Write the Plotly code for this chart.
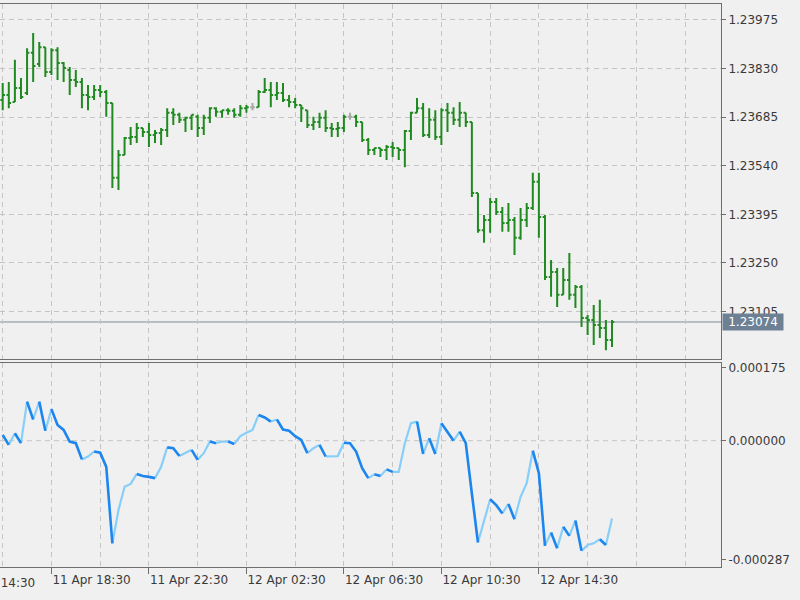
import pandas as pd
import plotly.graph_objects as go

# ---------------- data ----------------
bar_start = "2018-04-11 16:30"
bar_count = 101
times = pd.date_range(bar_start, periods=bar_count, freq="15min")

open_ = [1.23736, 1.23751, 1.23730, 1.23772, 1.23757, 1.23877, 1.23844, 1.23894, 1.23820, 1.23885,
         1.23847, 1.23826, 1.23796, 1.23790, 1.23751, 1.23745, 1.23766, 1.23760, 1.23727, 1.23504,
         1.23572, 1.23623, 1.23626, 1.23653, 1.23641, 1.23632, 1.23638, 1.23647, 1.23698, 1.23692,
         1.23677, 1.23683, 1.23686, 1.23653, 1.23683, 1.23712, 1.23701, 1.23706, 1.23704, 1.23692,
         1.23712, 1.23715, 1.23715, 1.23760, 1.23766, 1.23751, 1.23757, 1.23736, 1.23730, 1.23721,
         1.23706, 1.23662, 1.23671, 1.23683, 1.23653, 1.23650, 1.23653, 1.23686, 1.23686, 1.23671,
         1.23617, 1.23587, 1.23593, 1.23587, 1.23596, 1.23593, 1.23587, 1.23644, 1.23698, 1.23712,
         1.23632, 1.23677, 1.23626, 1.23706, 1.23698, 1.23677, 1.23698, 1.23671, 1.23459, 1.23348,
         1.23378, 1.23432, 1.23402, 1.23369, 1.23378, 1.23325, 1.23378, 1.23414, 1.23492, 1.23387,
         1.23208, 1.23223, 1.23155, 1.23199, 1.23155, 1.23178, 1.23086, 1.23080, 1.23065, 1.23056,
         1.23020]
high = [1.23787, 1.23790, 1.23856, 1.23802, 1.23891, 1.23936, 1.23909, 1.23894, 1.23891, 1.23894,
        1.23850, 1.23835, 1.23826, 1.23802, 1.23781, 1.23781, 1.23781, 1.23766, 1.23727, 1.23587,
        1.23626, 1.23656, 1.23668, 1.23653, 1.23668, 1.23647, 1.23653, 1.23712, 1.23712, 1.23698,
        1.23686, 1.23692, 1.23692, 1.23692, 1.23715, 1.23715, 1.23706, 1.23712, 1.23712, 1.23721,
        1.23721, 1.23727, 1.23766, 1.23802, 1.23790, 1.23790, 1.23787, 1.23751, 1.23742, 1.23721,
        1.23706, 1.23686, 1.23698, 1.23706, 1.23668, 1.23671, 1.23692, 1.23698, 1.23692, 1.23671,
        1.23623, 1.23593, 1.23593, 1.23602, 1.23611, 1.23593, 1.23647, 1.23701, 1.23742, 1.23727,
        1.23712, 1.23706, 1.23712, 1.23727, 1.23715, 1.23730, 1.23698, 1.23671, 1.23459, 1.23393,
        1.23444, 1.23444, 1.23417, 1.23429, 1.23387, 1.23414, 1.23429, 1.23519, 1.23519, 1.23393,
        1.23259, 1.23235, 1.23235, 1.23280, 1.23184, 1.23184, 1.23095, 1.23125, 1.23140, 1.23080,
        1.23080]
low = [1.23706, 1.23712, 1.23730, 1.23739, 1.23751, 1.23790, 1.23835, 1.23805, 1.23811, 1.23796,
       1.23790, 1.23751, 1.23775, 1.23712, 1.23706, 1.23736, 1.23745, 1.23686, 1.23474, 1.23468,
       1.23572, 1.23602, 1.23608, 1.23626, 1.23596, 1.23608, 1.23602, 1.23626, 1.23662, 1.23668,
       1.23641, 1.23647, 1.23626, 1.23632, 1.23668, 1.23686, 1.23683, 1.23692, 1.23683, 1.23686,
       1.23698, 1.23706, 1.23715, 1.23757, 1.23715, 1.23736, 1.23730, 1.23715, 1.23712, 1.23671,
       1.23653, 1.23647, 1.23653, 1.23641, 1.23626, 1.23626, 1.23641, 1.23677, 1.23656, 1.23611,
       1.23572, 1.23572, 1.23566, 1.23557, 1.23566, 1.23557, 1.23536, 1.23617, 1.23698, 1.23626,
       1.23623, 1.23617, 1.23602, 1.23641, 1.23662, 1.23656, 1.23656, 1.23447, 1.23340, 1.23310,
       1.23340, 1.23393, 1.23343, 1.23343, 1.23274, 1.23319, 1.23357, 1.23408, 1.23325, 1.23199,
       1.23149, 1.23119, 1.23155, 1.23140, 1.23116, 1.23059, 1.23035, 1.23005, 1.23026, 1.22990,
       1.22999]
close = [1.23751, 1.23727, 1.23772, 1.23745, 1.23877, 1.23838, 1.23894, 1.23820, 1.23885, 1.23847,
         1.23832, 1.23796, 1.23790, 1.23751, 1.23745, 1.23766, 1.23760, 1.23727, 1.23504, 1.23572,
         1.23623, 1.23626, 1.23653, 1.23641, 1.23632, 1.23638, 1.23647, 1.23698, 1.23692, 1.23677,
         1.23683, 1.23692, 1.23653, 1.23683, 1.23712, 1.23701, 1.23706, 1.23704, 1.23692, 1.23712,
         1.23715, 1.23715, 1.23760, 1.23766, 1.23751, 1.23757, 1.23736, 1.23730, 1.23721, 1.23712,
         1.23662, 1.23671, 1.23683, 1.23653, 1.23650, 1.23653, 1.23686, 1.23686, 1.23671, 1.23617,
         1.23587, 1.23593, 1.23587, 1.23596, 1.23593, 1.23587, 1.23644, 1.23698, 1.23712, 1.23632,
         1.23677, 1.23626, 1.23706, 1.23698, 1.23677, 1.23698, 1.23671, 1.23459, 1.23348, 1.23378,
         1.23432, 1.23402, 1.23369, 1.23378, 1.23325, 1.23378, 1.23414, 1.23492, 1.23387, 1.23208,
         1.23223, 1.23155, 1.23199, 1.23155, 1.23178, 1.23086, 1.23080, 1.23065, 1.23056, 1.23020,
         1.23074]
osc = [14e-6, -10e-6, 18e-6, -6e-6, 94e-6, 51e-6, 94e-6, 24e-6, 76e-6, 38e-6,
       26e-6, -2e-6, -6e-6, -45e-6, -38e-6, -26e-6, -29e-6, -63e-6, -247e-6, -167e-6,
       -111e-6, -104e-6, -80e-6, -85e-6, -87e-6, -90e-6, -63e-6, -16e-6, -18e-6, -37e-6,
       -29e-6, -22e-6, -46e-6, -30e-6, -2e-6, -6e-6, -2e-6, -2e-6, -8e-6, 11e-6,
       19e-6, 26e-6, 62e-6, 56e-6, 46e-6, 51e-6, 27e-6, 24e-6, 11e-6, 2e-6,
       -30e-6, -18e-6, -10e-6, -38e-6, -38e-6, -37e-6, -5e-6, -6e-6, -26e-6, -66e-6,
       -90e-6, -81e-6, -85e-6, -69e-6, -75e-6, -75e-6, -6e-6, 42e-6, 46e-6, -32e-6,
       6e-6, -32e-6, 42e-6, 22e-6, 0e-6, 22e-6, -6e-6, -127e-6, -245e-6, -191e-6,
       -141e-6, -155e-6, -175e-6, -152e-6, -189e-6, -135e-6, -102e-6, -24e-6, -78e-6, -253e-6,
       -221e-6, -259e-6, -207e-6, -229e-6, -192e-6, -265e-6, -251e-6, -247e-6, -237e-6, -251e-6,
       -187e-6]

price_ticks = [1.23975, 1.23830, 1.23685, 1.23540, 1.23395, 1.23250, 1.23105]
osc_ticks = [0.000175, 0.0, -0.000287]
osc_tick_text = ["0.000175", "0.000000", "-0.000287"]
time_label_ticks = ["2018-04-11 18:30", "2018-04-11 22:30", "2018-04-12 02:30",
                    "2018-04-12 06:30", "2018-04-12 10:30", "2018-04-12 14:30"]
first_label_time = "2018-04-11 14:30"
first_label_text = "11 Apr 14:30"

# ---------------- styles ----------------
BG = "#F0F0F0"
GRID = "#C4C4C4"
FRAME = "#6E6E6E"
TEXT = "#3A3A3A"
BAR_GREEN = "#1F8A1F"
DOJI_GREY = "#A8A8A8"
OSC_DOWN = "#1C86EE"
OSC_UP = "#87CEFA"
FONT = "DejaVu Sans"
DASH = "5px,4px"

x_left = pd.Timestamp("2018-04-11 16:23:21")
x_right = pd.Timestamp("2018-04-12 21:58:21")

is_doji = [o == c for o, c in zip(open_, close)]
not_doji = [not d for d in is_doji]


def pick(vals, keep):
    return [v if k else None for v, k in zip(vals, keep)]


fig = go.Figure()
fig.add_trace(go.Ohlc(
    x=times, open=pick(open_, not_doji), high=pick(high, not_doji),
    low=pick(low, not_doji), close=pick(close, not_doji),
    increasing=dict(line=dict(color=BAR_GREEN, width=2)),
    decreasing=dict(line=dict(color=BAR_GREEN, width=2)),
    tickwidth=0.38, xaxis="x", yaxis="y", hoverinfo="skip", showlegend=False))
fig.add_trace(go.Ohlc(
    x=times, open=pick(open_, is_doji), high=pick(high, is_doji),
    low=pick(low, is_doji), close=pick(close, is_doji),
    increasing=dict(line=dict(color=DOJI_GREY, width=2)),
    decreasing=dict(line=dict(color=DOJI_GREY, width=2)),
    tickwidth=0.38, xaxis="x", yaxis="y", hoverinfo="skip", showlegend=False))

# oscillator: colour each segment by direction
runs = []
for i in range(1, len(osc)):
    falling = osc[i] < osc[i - 1]
    if runs and runs[-1][0] == falling:
        runs[-1][1].append(i)
    else:
        runs.append((falling, [i - 1, i]))
for falling in (False, True):
    xs, ys = [], []
    for f, idx in runs:
        if f != falling:
            continue
        xs += [times[j] for j in idx] + [None]
        ys += [osc[j] for j in idx] + [None]
    fig.add_trace(go.Scatter(
        x=xs, y=ys, mode="lines", xaxis="x2", yaxis="y2",
        line=dict(color=OSC_DOWN if falling else OSC_UP, width=2.6 if falling else 2.2),
        hoverinfo="skip", showlegend=False, connectgaps=False))

common_x = dict(
    type="date", range=[x_left, x_right],
    tickmode="array", tickvals=time_label_ticks,
    showgrid=True, gridcolor=GRID, gridwidth=1, griddash=DASH,
    minor=dict(tickmode="linear", tick0="2018-04-11 16:30", dtick=2 * 3600 * 1000,
               showgrid=True, gridcolor=GRID, gridwidth=1, griddash=DASH),
    showline=True, linecolor=FRAME, linewidth=1, mirror=True, zeroline=False,
    fixedrange=True, automargin=False,
)

fig.update_layout(
    width=800, height=600,
    margin=dict(l=0, r=79, t=4, b=33, autoexpand=False),
    paper_bgcolor=BG, plot_bgcolor=BG,
    font=dict(family=FONT, size=12, color=TEXT),
    showlegend=False,
    xaxis=dict(common_x, anchor="y", showticklabels=False, ticks="",
               rangeslider=dict(visible=False)),
    xaxis2=dict(common_x, anchor="y2", matches="x", showticklabels=True,
                ticks="outside", ticklen=6, tickcolor=FRAME,
                tickformat="%d %b %H:%M", ticklabelposition="outside right",
                ticklabelstandoff=2,
                tickfont=dict(family=FONT, size=12, color=TEXT)),
    yaxis=dict(domain=[0.3686, 1.0], side="right", range=[1.229621, 1.240227],
               tickvals=price_ticks, ticktext=[f"{v:.5f}" for v in price_ticks],
               showgrid=True, gridcolor=GRID, griddash=DASH, zeroline=False,
               ticks="outside", ticklen=4, tickcolor=FRAME, automargin=False,
               showline=True, linecolor=FRAME, linewidth=1, fixedrange=True),
    yaxis2=dict(domain=[0.0, 0.3615], side="right", range=[-0.0003039, 0.0001858],
                tickvals=osc_ticks, ticktext=osc_tick_text,
                showgrid=False, zeroline=False, automargin=False,
                ticks="outside", ticklen=4, tickcolor=FRAME,
                showline=True, linecolor=FRAME, linewidth=1, fixedrange=True),
)

# zero level grid line in the indicator window
fig.add_shape(type="line", xref="x2 domain", x0=0, x1=1, yref="y2", y0=0, y1=0,
              line=dict(color=GRID, width=1, dash=DASH), layer="below")
# current price line
fig.add_shape(type="line", xref="x domain", x0=0, x1=1, yref="y", y0=close[-1], y1=close[-1],
              line=dict(color="#7D8B99", width=1), layer="below")
fig.add_annotation(xref="paper", x=1, xanchor="left", yref="y", y=close[-1], yanchor="middle",
                   text=f"{close[-1]:.5f}", showarrow=False, bgcolor="#6E8194",
                   font=dict(family=FONT, size=12, color="#FFFFFF"),
                   width=60, height=16, borderpad=0, xshift=1)

# partially visible first time label (its tick lies left of the visible window)
t_lab = pd.Timestamp(first_label_time)
frac = (t_lab - x_left) / (x_right - x_left)
fig.add_annotation(xref="paper", x=frac, xanchor="left", yref="paper", y=0, yanchor="top",
                   yshift=-7, xshift=1, text=first_label_text, showarrow=False,
                   font=dict(family=FONT, size=12, color=TEXT))

fig.write_html("out.html", config={"displayModeBar": False, "staticPlot": True},
               post_script="document.body.style.margin='0px';")
